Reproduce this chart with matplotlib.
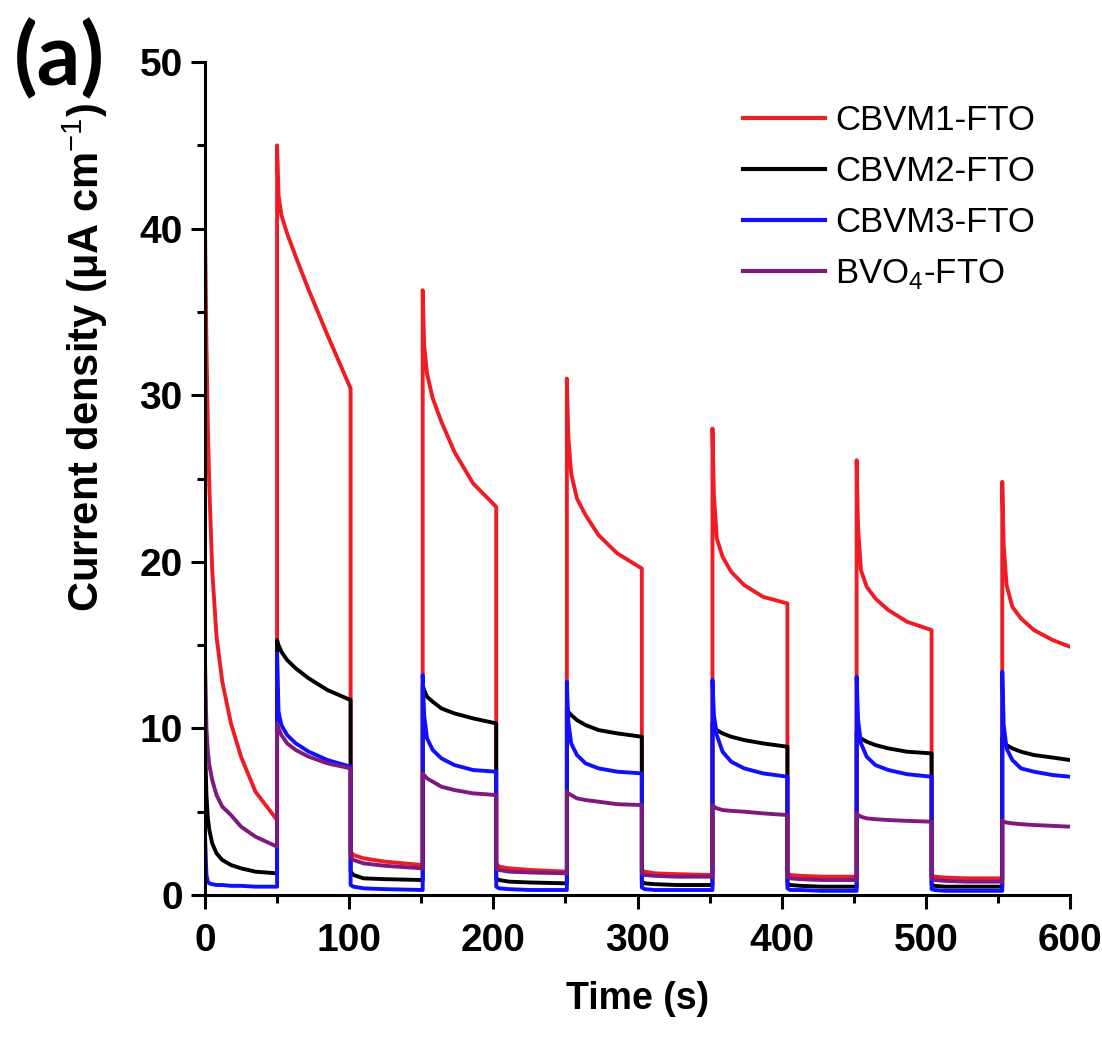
import matplotlib
matplotlib.use("Agg")
import matplotlib.pyplot as plt
from matplotlib.ticker import MultipleLocator

# Sample times (s) shared by all traces; repeated times mark light on/off switching
time_s = [
    0, 1, 2, 3, 5, 8, 12, 18, 25, 35, 50,
    50, 51, 53, 57, 63, 72, 85, 101,
    101, 103, 110, 125, 151,
    151, 152, 154, 158, 164, 173, 186, 202,
    202, 204, 211, 226, 251,
    251, 252, 254, 258, 264, 273, 286, 303,
    303, 305, 312, 327, 352,
    352, 353, 355, 359, 365, 374, 387, 404,
    404, 406, 413, 428, 452,
    452, 453, 455, 459, 465, 474, 487, 504,
    504, 506, 513, 528, 553,
    553, 554, 556, 560, 566, 575, 588, 600,
]

# Current density (uA cm^-1)
cbvm1 = [
    40.0, 33.0, 28.0, 24.5, 19.5, 15.5, 12.8, 10.3, 8.3, 6.2, 4.5,
    45.0, 42.0, 40.8, 39.7, 38.3, 36.3, 33.6, 30.4,
    2.6, 2.4, 2.2, 2.0, 1.8,
    36.3, 33.0, 31.3, 29.8, 28.4, 26.6, 24.7, 23.3,
    1.9, 1.7, 1.6, 1.5, 1.4,
    31.0, 27.5, 25.3, 23.8, 22.8, 21.6, 20.5, 19.6,
    1.5, 1.4, 1.3, 1.25, 1.2,
    28.0, 24.0, 21.4, 20.3, 19.4, 18.6, 17.9, 17.5,
    1.3, 1.2, 1.15, 1.1, 1.1,
    26.1, 22.0, 19.5, 18.5, 17.8, 17.1, 16.4, 15.9,
    1.2, 1.1, 1.05, 1.0, 1.0,
    24.8, 21.0, 18.6, 17.3, 16.6, 15.9, 15.3, 14.9,
]
cbvm2 = [
    9.0, 6.0, 4.6, 3.9, 3.1, 2.5, 2.1, 1.8, 1.6, 1.4, 1.3,
    15.3, 15.0, 14.6, 14.1, 13.6, 13.0, 12.3, 11.7,
    1.4, 1.2, 1.0, 0.95, 0.9,
    12.6, 12.3, 11.9, 11.6, 11.2, 10.9, 10.6, 10.3,
    1.0, 0.9, 0.8, 0.75, 0.7,
    11.3, 11.0, 10.8, 10.5, 10.2, 9.9, 9.7, 9.5,
    0.8, 0.7, 0.65, 0.6, 0.6,
    10.3, 10.1, 9.9, 9.7, 9.5, 9.3, 9.1, 8.9,
    0.7, 0.6, 0.55, 0.5, 0.5,
    9.8, 9.6, 9.4, 9.2, 9.0, 8.8, 8.6, 8.5,
    0.6, 0.55, 0.5, 0.5, 0.5,
    9.4, 9.2, 9.0, 8.8, 8.6, 8.4, 8.25, 8.1,
]
cbvm3 = [
    3.5, 1.2, 0.8, 0.7, 0.65, 0.6, 0.6, 0.55, 0.55, 0.5, 0.5,
    14.5, 11.0, 10.2, 9.6, 9.1, 8.6, 8.1, 7.7,
    0.6, 0.5, 0.4, 0.35, 0.3,
    13.2, 10.8, 9.4, 8.7, 8.2, 7.8, 7.5, 7.4,
    0.5, 0.4, 0.35, 0.3, 0.3,
    12.8, 10.4, 9.1, 8.4, 7.9, 7.6, 7.4, 7.3,
    0.45, 0.35, 0.3, 0.3, 0.3,
    12.9, 10.8, 9.6, 8.6, 8.0, 7.6, 7.3, 7.1,
    0.4, 0.3, 0.3, 0.25, 0.25,
    13.1, 10.5, 9.1, 8.3, 7.8, 7.5, 7.25, 7.1,
    0.35, 0.3, 0.25, 0.25, 0.25,
    13.4, 10.2, 8.8, 8.1, 7.6, 7.4, 7.2, 7.1,
]
bvo4 = [
    14.0, 10.0, 8.6, 7.8, 6.9, 6.0, 5.3, 4.8, 4.1, 3.5, 2.9,
    10.3, 10.0, 9.6, 9.1, 8.7, 8.3, 7.9, 7.6,
    2.3, 2.1, 1.9, 1.75, 1.6,
    7.3, 7.2, 7.0, 6.8, 6.5, 6.3, 6.1, 6.0,
    1.6, 1.5, 1.4, 1.35, 1.3,
    6.2, 6.1, 6.0, 5.8, 5.7, 5.6, 5.45, 5.4,
    1.3, 1.2, 1.15, 1.1, 1.1,
    5.4, 5.3, 5.2, 5.1, 5.05, 5.0, 4.9, 4.8,
    1.1, 1.0, 0.95, 0.9, 0.9,
    4.9, 4.8, 4.7, 4.6, 4.55, 4.5, 4.45, 4.4,
    1.0, 0.9, 0.85, 0.8, 0.8,
    4.5, 4.4, 4.35, 4.3, 4.25, 4.2, 4.15, 4.1,
]

series_labels = ["CBVM1-FTO", "CBVM2-FTO", "CBVM3-FTO", "BVO$_4$-FTO"]
series_colors = ["#ee1c24", "#000000", "#1010ff", "#7e1a7e"]

plt.rcParams["mathtext.fontset"] = "custom"
plt.rcParams["mathtext.rm"] = "Liberation Sans"
plt.rcParams["mathtext.bf"] = "Liberation Sans:bold"
plt.rcParams["font.family"] = ["Liberation Sans", "DejaVu Sans"]

fig = plt.figure(figsize=(11.02, 10.37), dpi=100)
ax = fig.add_axes([205 / 1102, 1 - 895 / 1037, 865 / 1102, 833 / 1037])

for vals, lab, col in zip([cbvm1, cbvm2, cbvm3, bvo4], series_labels, series_colors):
    ax.plot(time_s, vals, color=col, lw=2.8, label=lab)

ax.set_xlim(0, 600)
ax.set_ylim(0, 50)
ax.xaxis.set_major_locator(MultipleLocator(100))
ax.xaxis.set_minor_locator(MultipleLocator(50))
ax.yaxis.set_major_locator(MultipleLocator(10))
ax.yaxis.set_minor_locator(MultipleLocator(5))

for side in ("top", "right"):
    ax.spines[side].set_visible(False)
for side in ("left", "bottom"):
    ax.spines[side].set_linewidth(2.2)

ax.tick_params(which="major", direction="out", length=10, width=2.2)
ax.tick_params(which="minor", direction="out", length=6, width=2.2)
ax.tick_params(axis="x", which="major", pad=10)
ax.tick_params(axis="y", which="major", pad=6)
for lbl in ax.get_xticklabels() + ax.get_yticklabels():
    lbl.set_fontweight("bold")
    lbl.set_fontsize(28)

ax.set_xlabel("Time (s)", fontsize=27, fontweight="bold", labelpad=16)
ax.set_ylabel("Current density (μA cm$^{-1}$)", fontsize=30, fontweight="bold")
ax.yaxis.set_label_coords(-0.11, 0.645)

leg = ax.legend(loc="upper left", bbox_to_anchor=(743 / 1102, 1 - 104 / 1037),
                bbox_transform=fig.transFigure, frameon=False, fontsize=25,
                handlelength=2.35, handletextpad=0.3, labelspacing=0.52,
                borderpad=0, borderaxespad=0)
for line in leg.get_lines():
    line.set_linewidth(3)

fig.text(59 / 1102, 1 - 60 / 1037, "(a)", fontsize=62, fontweight="bold",
         family=["Lato", "DejaVu Sans"], ha="center", va="center")

fig.savefig("out.png", dpi=100)
